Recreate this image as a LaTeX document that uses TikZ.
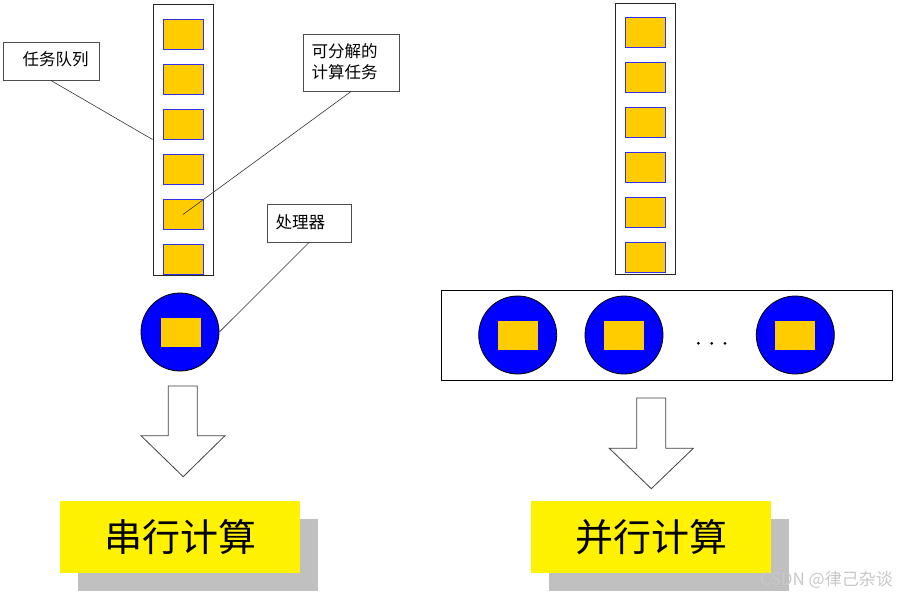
\documentclass[tikz,border=0pt]{standalone}
\usepackage{fontspec}
\newfontfamily\cjk{Noto Sans CJK SC}
\definecolor{taskyellow}{HTML}{FFCC00}
\definecolor{taskblue}{HTML}{3030F0}
\definecolor{shadowgray}{HTML}{C0C0C0}
\definecolor{markgray}{HTML}{C8C8C8}
\begin{document}
\begin{tikzpicture}[x=1pt,y=-1pt,
  task/.style={draw=taskblue, fill=taskyellow, line width=0.8pt, minimum width=40pt, minimum height=30pt, inner sep=0pt},
  queuebox/.style={draw=black!85, line width=1pt, inner sep=0pt, minimum width=60pt, minimum height=271pt},
  lab/.style={draw=black!70, line width=1pt, fill=white, inner sep=0pt},
  labtext/.style={font=\cjk\fontsize{16.5}{21}\selectfont, inner sep=0pt, anchor=west, align=left},
  proc/.style={circle, draw=black, fill=blue, line width=0.8pt, minimum size=78pt, inner sep=0pt},
  core/.style={fill=taskyellow, draw=none, minimum width=40pt, minimum height=29pt, inner sep=0pt},
  leader/.style={draw=black!80, line width=0.6pt},
  blockarrow/.style={draw=black!75, fill=white, line width=0.8pt},
  result/.style={fill=yellow, draw=none, minimum width=240pt, minimum height=72pt, inner sep=0pt, font=\cjk\fontsize{38}{40}\selectfont},
  shadow/.style={fill=shadowgray, draw=none, minimum width=240pt, minimum height=72pt, inner sep=0pt},
  dot/.style={fill=black, draw=none}
]
\useasboundingbox (0,0) rectangle (897,595);

% ---- left: serial ----
\node[queuebox] (q1) at (183,139.5) {};
\foreach \k in {0,...,5} {
  \node[task] (t1\k) at (183,{34.5+45*\k}) {};
}
\node[proc] (p1) at (180,332) {};
\node[core] (c1) at (181,332) {};

\node[lab, minimum width=96pt, minimum height=38pt] (l1) at (51,61) {};
\node[labtext] (l1t) at (22.5,59) {任务队列};
\node[lab, minimum width=96pt, minimum height=57pt] (l2) at (351,62.5) {};
\node[labtext] (l2t) at (311.5,61.5) {可分解的\\计算任务};
\node[lab, minimum width=84pt, minimum height=38pt] (l3) at (309,223) {};
\node[labtext] (l3t) at (275.5,222) {处理器};

\draw[leader] (l1.south) -- (q1.west);
\draw[leader] (l2.south) -- (t14.center);
\draw[leader] (l3.south) -- (p1.east);

\draw[blockarrow] (168.3,386) -- (197.3,386) -- (197.3,435.7) -- (225,435.7) -- (183.2,476.7) -- (141,435.7) -- (168.3,435.7) -- cycle;

\node[shadow] (s1) at (198,554.7) {};
\node[result] (r1) at (180,536.7) {串行计算};

% ---- right: parallel ----
\node[queuebox] (q2) at (645,138.5) {};
\foreach \k in {0,...,5} {
  \node[task] (t2\k) at (645,{32.8+45*\k}) {};
}
\node[draw=black, line width=1pt, minimum width=451pt, minimum height=90pt, inner sep=0pt] (pc) at (666.5,335) {};
\node[proc] (p2) at (517.7,335) {};
\node[core] (c2) at (517.7,335.3) {};
\node[proc] (p3) at (624,335) {};
\node[core] (c3) at (624,335.3) {};
\node[proc] (p4) at (795.3,335) {};
\node[core] (c4) at (795.3,335.3) {};
\fill[dot] (698.3,343.3) circle (1.5pt);
\fill[dot] (711.7,343.3) circle (1.5pt);
\fill[dot] (725,343.3) circle (1.5pt);

\draw[blockarrow] (636.7,398) -- (665.7,398) -- (665.7,448.3) -- (693.3,448.3) -- (651.3,488.7) -- (609.3,448.3) -- (636.7,448.3) -- cycle;

\node[shadow] (s2) at (669.2,554.8) {};
\node[result] (r2) at (651.2,536.8) {并行计算};

\node[font=\cjk\fontsize{17}{19}\selectfont, text=markgray, inner sep=0pt, anchor=east] (wm) at (893,580) {CSDN @律己杂谈};
\end{tikzpicture}
\end{document}
